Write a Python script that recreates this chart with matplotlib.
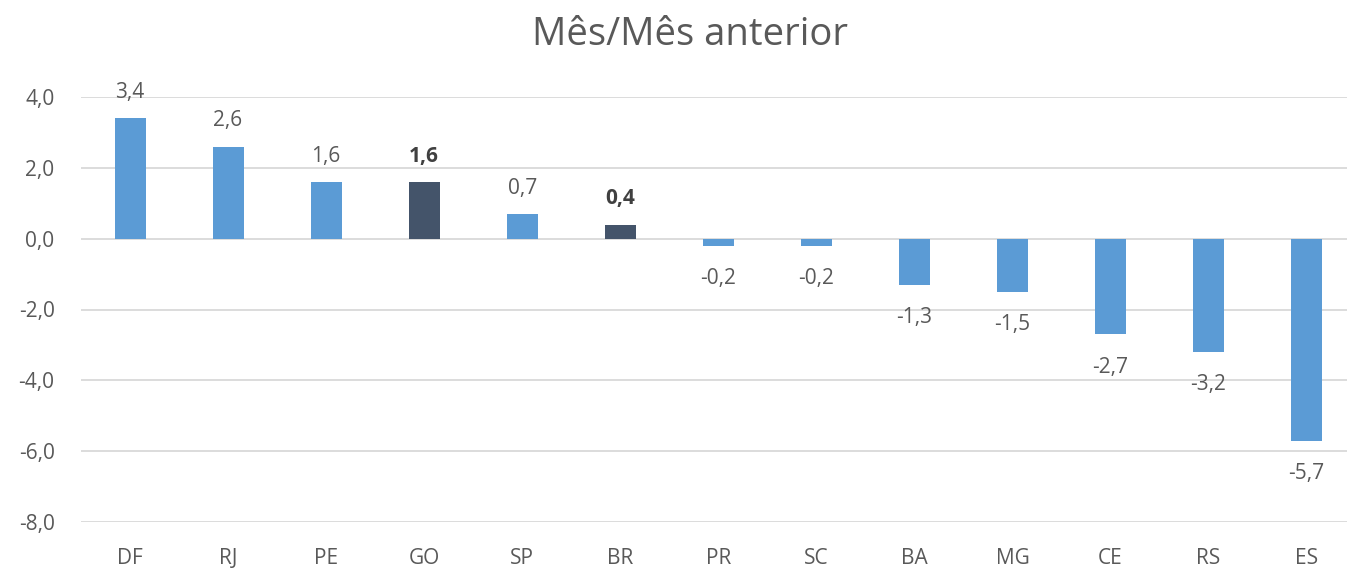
import matplotlib
matplotlib.use("Agg")
import matplotlib.pyplot as plt

# dados
estados = ["DF", "RJ", "PE", "GO", "SP", "BR", "PR", "SC", "BA", "MG", "CE", "RS", "ES"]
valores = [3.4, 2.6, 1.6, 1.6, 0.7, 0.4, -0.2, -0.2, -1.3, -1.5, -2.7, -3.2, -5.7]
destaque = ["GO", "BR"]

azul = "#5B9BD5"
escuro = "#44546A"
cinza = "#595959"

plt.rcParams['font.family'] = ['Open Sans', 'DejaVu Sans']

fig = plt.figure(figsize=(13.47, 5.69), dpi=100)
ax = fig.add_axes([81/1347, 1-522/569, (1347-81)/1347, (522-97)/569])

cores = [escuro if e in destaque else azul for e in estados]
x = range(len(estados))
ax.bar(x, valores, width=0.316, color=cores, zorder=3)

for i, v in enumerate(valores):
    txt = ("%.1f" % v).replace(".", ",")
    peso = "bold" if estados[i] in destaque else "normal"
    cor = "#404040" if peso == "bold" else cinza
    if v >= 0:
        ax.annotate(txt, (i, v), xytext=(0, 11), textcoords="offset points",
                    ha="center", va="bottom", fontsize=15, color=cor, fontweight=peso)
    else:
        ax.annotate(txt, (i, v), xytext=(0, -16), textcoords="offset points",
                    ha="center", va="top", fontsize=15, color=cor, fontweight=peso)

ax.set_xlim(-0.5, 12.413)
ax.set_ylim(-8, 4)
ax.set_yticks(range(-8, 5, 2))
ax.set_yticklabels([("%.1f" % t).replace(".", ",") for t in range(-8, 5, 2)])
ax.set_xticks(list(x))
ax.set_xticklabels(estados)
ax.tick_params(axis="both", length=0, labelsize=15, labelcolor=cinza)
ax.tick_params(axis="x", pad=19)
ax.tick_params(axis="y", pad=19)
ax.grid(axis="y", color="#D9D9D9", linewidth=1.3, zorder=0)
for s in ax.spines.values():
    s.set_visible(False)

fig.text(690/1347, 1-35/569, "Mês/Mês anterior", ha="center", va="center", fontsize=27.5, color=cinza)

fig.savefig("out.png", dpi=100)
